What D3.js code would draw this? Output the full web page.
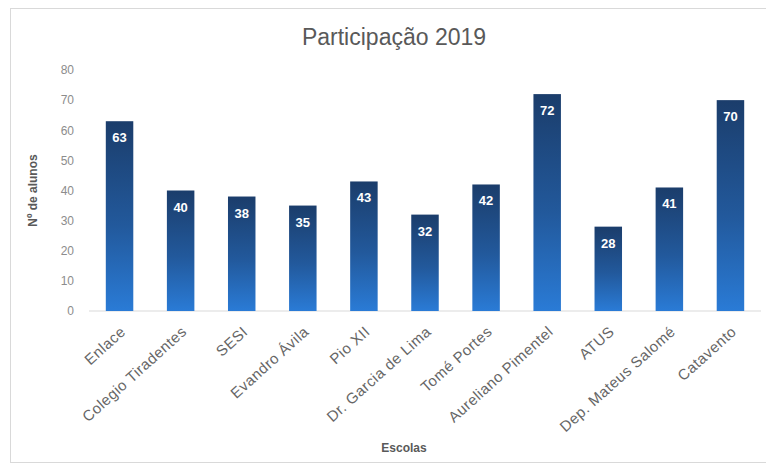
<!DOCTYPE html>
<html>
<head>
<meta charset="utf-8">
<script src="https://cdn.jsdelivr.net/npm/d3@7"></script>
<style>
  body { margin: 0; background: #fff; }
  text { font-family: "Liberation Sans", "Noto Sans", sans-serif; }
</style>
</head>
<body>
<div id="chart"></div>
<script>
const escolas = ['Enlace', 'Colegio Tiradentes', 'SESI', 'Evandro Ávila', 'Pio XII', 'Dr. Garcia de Lima',
  'Tomé Portes', 'Aureliano Pimentel', 'ATUS', 'Dep. Mateus Salomé', 'Catavento'];
const alunos = [63, 40, 38, 35, 43, 32, 42, 72, 28, 41, 70];
const yTicks = [0, 10, 20, 30, 40, 50, 60, 70, 80];

const width = 766, height = 465;
const margin = { left: 89, right: 5, top: 70, bottom: 154 };

const svg = d3.select('#chart').append('svg')
  .attr('width', width)
  .attr('height', height);

// chart frame
svg.append('rect')
  .attr('x', 10.5).attr('y', 8.5)
  .attr('width', 770).attr('height', 454)
  .attr('fill', '#fff')
  .attr('stroke', '#d9d9d9');

const defs = svg.append('defs');
const grad = defs.append('linearGradient')
  .attr('id', 'barGrad')
  .attr('x1', 0).attr('y1', 0).attr('x2', 0).attr('y2', 1);
grad.append('stop').attr('offset', '0%').attr('stop-color', '#1b3d6b');
grad.append('stop').attr('offset', '55%').attr('stop-color', '#22599c');
grad.append('stop').attr('offset', '100%').attr('stop-color', '#2a7bd6');

const x = d3.scaleBand()
  .domain(escolas)
  .range([margin.left, width - margin.right])
  .paddingInner(0.55)
  .paddingOuter(0.275);

const y = d3.scaleLinear()
  .domain([0, 80])
  .range([height - margin.bottom, margin.top]);

// title
svg.append('text')
  .attr('x', 394).attr('y', 45)
  .attr('text-anchor', 'middle')
  .attr('font-size', '23px')
  .attr('fill', '#595959')
  .text('Participação 2019');

// y axis labels
const yAxis = d3.axisLeft(y).tickValues(yTicks).tickSize(0).tickPadding(0);
svg.append('g')
  .attr('transform', `translate(74, 0)`)
  .call(yAxis)
  .call(g => g.select('.domain').remove())
  .call(g => g.selectAll('text')
    .attr('fill', '#8c8c8c')
    .attr('font-size', '12px')
    .style('font-family', '"Liberation Sans", sans-serif'));

// baseline
svg.append('line')
  .attr('x1', margin.left).attr('x2', width - margin.right)
  .attr('y1', y(0)).attr('y2', y(0))
  .attr('stroke', '#d9d9d9');

// bars
svg.append('g')
  .selectAll('rect')
  .data(alunos)
  .join('rect')
    .attr('x', (d, i) => x(escolas[i]))
    .attr('y', d => y(d))
    .attr('width', x.bandwidth())
    .attr('height', d => y(0) - y(d))
    .attr('fill', 'url(#barGrad)');

// value labels
svg.append('g')
  .selectAll('text')
  .data(alunos)
  .join('text')
    .attr('x', (d, i) => x(escolas[i]) + x.bandwidth() / 2)
    .attr('y', d => y(d) + 21)
    .attr('text-anchor', 'middle')
    .attr('font-size', '13px')
    .attr('font-weight', 'bold')
    .attr('fill', '#ffffff')
    .text(d => d);

// x axis labels
const xAxis = d3.axisBottom(x).tickSize(0).tickPadding(0);
svg.append('g')
  .attr('transform', `translate(0, ${y(0)})`)
  .call(xAxis)
  .call(g => g.select('.domain').remove())
  .call(g => g.selectAll('text')
    .attr('fill', '#666666')
    .attr('font-size', '15px')
    .attr('letter-spacing', '0.5px')
    .style('font-family', '"Liberation Sans", sans-serif')
    .attr('text-anchor', 'end')
    .attr('dy', 0)
    .attr('transform', 'translate(7, 22) rotate(-42)'));

// axis titles
svg.append('text')
  .attr('transform', `translate(37, ${y(40)}) rotate(-90)`)
  .attr('text-anchor', 'middle')
  .attr('font-size', '12px')
  .attr('font-weight', 'bold')
  .attr('fill', '#595959')
  .text('Nº de alunos');

svg.append('text')
  .attr('x', 404).attr('y', 452)
  .attr('text-anchor', 'middle')
  .attr('font-size', '12px')
  .attr('font-weight', 'bold')
  .attr('fill', '#595959')
  .text('Escolas');
</script>
</body>
</html>
